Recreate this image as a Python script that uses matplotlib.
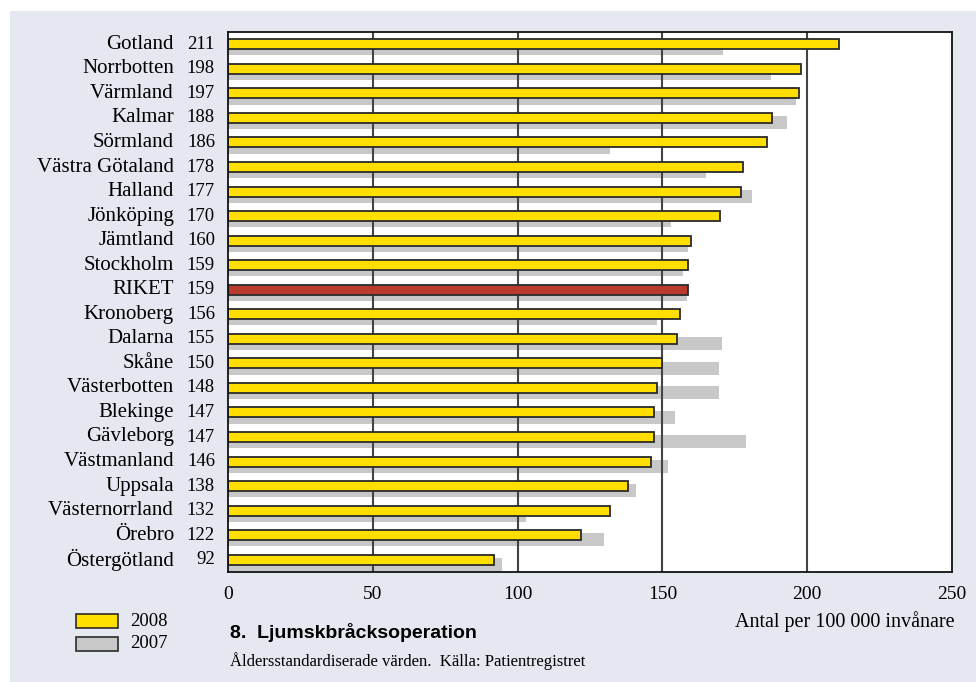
import matplotlib
matplotlib.use("Agg")
import matplotlib.pyplot as plt
from matplotlib.patches import Rectangle
import numpy as np

# Regions, top to bottom
regions = ["Gotland", "Norrbotten", "Värmland", "Kalmar", "Sörmland",
           "Västra Götaland", "Halland", "Jönköping", "Jämtland", "Stockholm",
           "RIKET", "Kronoberg", "Dalarna", "Skåne", "Västerbotten", "Blekinge",
           "Gävleborg", "Västmanland", "Uppsala", "Västernorrland", "Örebro",
           "Östergötland"]
values_2008 = [211, 198, 197, 188, 186, 178, 177, 170, 160, 159, 159, 156,
               155, 150, 148, 147, 147, 146, 138, 132, 122, 92]
values_2007 = [171, 187.5, 196, 193, 132, 165, 181, 153, 159, 157, 158.5, 148,
               170.5, 169.5, 169.5, 154.5, 179, 152, 141, 103, 130, 94.5]
xticks = [0, 50, 100, 150, 200, 250]

W, H = 977, 682
fig = plt.figure(figsize=(W / 100, H / 100), dpi=100)
fig.patch.set_facecolor("white")

panel = "#e5e8f0"
fig.patches.append(Rectangle((10 / W, 0), (976 - 10) / W, 1 - 11 / H,
                             transform=fig.transFigure, facecolor=panel,
                             edgecolor="none", zorder=-10))

left, right, top, bottom = 228, 952, 32, 572
ax = fig.add_axes([left / W, 1 - bottom / H, (right - left) / W, (bottom - top) / H])
ax.set_zorder(1)
ax.set_facecolor("white")

n = len(regions)
y = np.arange(n)
yellow = "#ffde00"
grey = "#c8c8c8"
red = "#bb3a2e"
edge = "#2a2a2a"

ax.barh(y + 0.19, values_2007, height=0.53, color=grey, edgecolor="none", zorder=1)
colors = [red if r == "RIKET" else yellow for r in regions]
ax.barh(y, values_2008, height=0.41, color=colors, edgecolor=edge,
        linewidth=1.3, zorder=3)

ax.set_xlim(0, 250)
ax.set_ylim(n - 0.5, -0.5)
ax.set_xticks(xticks)
ax.set_xticklabels([str(t) for t in xticks], fontfamily="Liberation Serif", fontsize=14)
ax.tick_params(axis="x", length=0, pad=10)
ax.set_yticks([])
for xv in xticks[1:-1]:
    ax.axvline(xv, color="#444444", linewidth=1.5, zorder=2)
for s in ax.spines.values():
    s.set_color("#111111")
    s.set_linewidth(1.3)
    s.set_zorder(5)

serif = "Liberation Serif"
for i, (r, v) in enumerate(zip(regions, values_2008)):
    yy = ax.transData.transform((0, i))[1]
    fy = yy / H
    fig.text(174 / W, fy, r, ha="right", va="center", fontfamily=serif, fontsize=15)
    fig.text(215 / W, fy, str(v), ha="right", va="center", fontfamily=serif, fontsize=13.5)

# Axis unit
fig.text(955 / W, 1 - 622 / H, "Antal per 100 000 invånare", ha="right", va="center",
         fontfamily=serif, fontsize=14.5)

# Legend swatches
for yc, col, lab in [(621, yellow, "2008"), (644, grey, "2007")]:
    fig.patches.append(Rectangle((76 / W, 1 - (yc + 7) / H), 42 / W, 14 / H,
                                 transform=fig.transFigure, facecolor=col,
                                 edgecolor=edge, linewidth=1.2, zorder=3))
    fig.text(130 / W, 1 - yc / H, lab, ha="left", va="center",
             fontfamily=serif, fontsize=13.5)

# Title and source
fig.text(230 / W, 1 - 633 / H, "8.  Ljumskbråcksoperation", ha="left", va="center",
         fontfamily="Liberation Sans", fontweight="bold", fontsize=14)
fig.text(230 / W, 1 - 661 / H, "Åldersstandardiserade värden.  Källa: Patientregistret",
         ha="left", va="center", fontfamily=serif, fontsize=12)

fig.savefig("out.png", dpi=100, facecolor=fig.get_facecolor())
